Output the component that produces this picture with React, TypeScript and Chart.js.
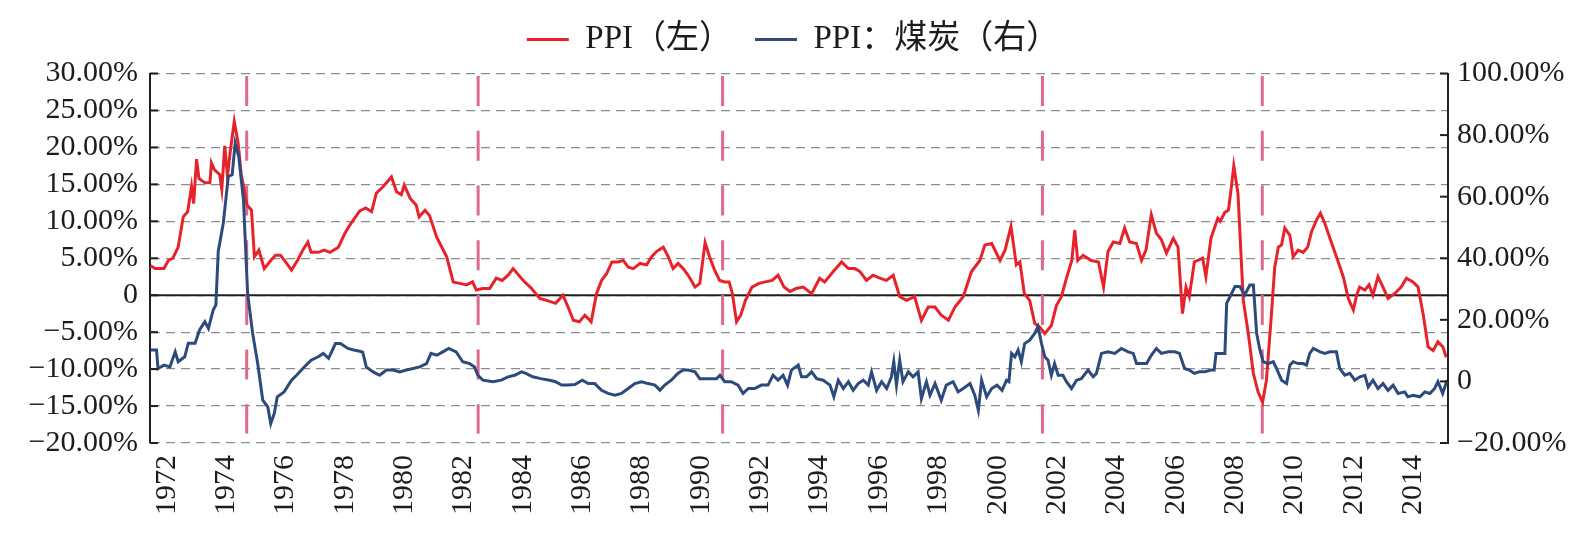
import React, { useEffect, useRef } from "react";
import { Chart, registerables } from "chart.js";

Chart.register(...registerables);

const seriesNames = ["PPI（左）", "PPI：煤炭（右）"];

// [year, YoY %] – US PPI (left axis)
const ppiPoints: [number, number][] = [
  [1971.45, 4.0], [1971.6, 3.6], [1971.9, 3.6], [1972.05, 4.7], [1972.2, 5.0], [1972.38, 6.5],
  [1972.55, 10.6], [1972.7, 11.3], [1972.83, 14.7], [1972.9, 12.4], [1973.0, 18.4], [1973.08, 15.8],
  [1973.28, 15.2], [1973.45, 15.2], [1973.5, 17.9], [1973.6, 17.0], [1973.78, 16.3], [1973.85, 14.3],
  [1973.95, 20.2], [1974.04, 16.1], [1974.15, 19.9], [1974.27, 23.5], [1974.4, 20.6], [1974.5, 16.5],
  [1974.7, 12.2], [1974.85, 11.5], [1974.95, 5.2], [1975.1, 6.1], [1975.28, 3.6], [1975.5, 4.7],
  [1975.66, 5.4], [1975.83, 5.4], [1976.0, 4.5], [1976.2, 3.4], [1976.4, 4.7], [1976.58, 6.1],
  [1976.75, 7.2], [1976.86, 5.8], [1977.1, 5.8], [1977.3, 6.1], [1977.5, 5.8], [1977.78, 6.5],
  [1978.0, 8.4], [1978.2, 9.7], [1978.5, 11.4], [1978.7, 11.8], [1978.9, 11.3], [1979.06, 13.8],
  [1979.29, 14.7], [1979.57, 16.0], [1979.74, 14.0], [1979.9, 13.6], [1980.0, 14.9], [1980.2, 13.1],
  [1980.4, 12.2], [1980.5, 10.6], [1980.7, 11.5], [1980.85, 10.8], [1981.09, 7.9], [1981.43, 5.2],
  [1981.65, 1.8], [1981.87, 1.6], [1982.1, 1.4], [1982.3, 1.8], [1982.43, 0.7], [1982.65, 0.9],
  [1982.88, 0.9], [1983.1, 2.3], [1983.3, 2.0], [1983.5, 2.7], [1983.67, 3.6], [1983.9, 2.5],
  [1984.06, 1.8], [1984.29, 0.9], [1984.57, -0.45], [1984.8, -0.7], [1985.1, -1.1], [1985.35, 0.0],
  [1985.52, -1.6], [1985.7, -3.4], [1985.9, -3.6], [1986.09, -2.7], [1986.3, -3.6], [1986.48, 0.2],
  [1986.65, 2.0], [1986.82, 2.9], [1987.0, 4.5], [1987.2, 4.5], [1987.38, 4.7], [1987.55, 3.8],
  [1987.72, 3.6], [1987.95, 4.3], [1988.17, 4.1], [1988.34, 5.2], [1988.5, 5.9], [1988.73, 6.5],
  [1988.9, 5.2], [1989.06, 3.6], [1989.23, 4.3], [1989.4, 3.6], [1989.57, 2.7], [1989.8, 1.1],
  [1989.96, 1.6], [1990.14, 7.1], [1990.29, 5.2], [1990.46, 3.4], [1990.63, 2.0], [1990.8, 1.8],
  [1990.95, 1.8], [1991.06, 0.2], [1991.2, -3.6], [1991.34, -2.7], [1991.5, -0.7], [1991.72, 1.1],
  [1991.95, 1.6], [1992.17, 1.8], [1992.4, 2.0], [1992.6, 2.7], [1992.8, 1.1], [1993.0, 0.5],
  [1993.2, 0.9], [1993.45, 1.1], [1993.73, 0.2], [1994.0, 2.3], [1994.17, 1.8], [1994.46, 3.2],
  [1994.74, 4.5], [1994.97, 3.6], [1995.19, 3.6], [1995.36, 3.2], [1995.58, 2.0], [1995.8, 2.7],
  [1996.03, 2.3], [1996.25, 2.0], [1996.48, 2.7], [1996.7, -0.2], [1996.93, -0.7], [1997.2, -0.2],
  [1997.43, -3.4], [1997.66, -1.6], [1997.89, -1.6], [1998.1, -2.7], [1998.34, -3.4], [1998.56, -1.6],
  [1998.84, -0.2], [1999.12, 3.2], [1999.4, 4.7], [1999.57, 6.8], [1999.8, 7.0], [2000.08, 4.7],
  [2000.25, 6.1], [2000.45, 9.3], [2000.63, 4.1], [2000.75, 4.5], [2000.9, 0.2], [2001.08, -0.7],
  [2001.25, -3.8], [2001.42, -4.3], [2001.59, -5.2], [2001.81, -4.1], [2001.98, -1.4], [2002.15, -0.2],
  [2002.32, 2.3], [2002.5, 4.7], [2002.6, 8.8], [2002.7, 4.7], [2002.88, 5.4], [2003.16, 4.7],
  [2003.4, 4.5], [2003.57, 1.1], [2003.72, 5.9], [2003.9, 7.2], [2004.12, 7.0], [2004.28, 9.1],
  [2004.45, 7.2], [2004.68, 7.0], [2004.85, 4.7], [2005.0, 6.1], [2005.18, 10.9], [2005.35, 8.4],
  [2005.52, 7.5], [2005.69, 5.7], [2005.92, 7.7], [2006.08, 6.5], [2006.23, -2.5], [2006.35, 1.1],
  [2006.46, -0.2], [2006.63, 4.5], [2006.91, 5.0], [2007.02, 2.5], [2007.19, 7.7], [2007.42, 10.4],
  [2007.5, 10.0], [2007.66, 11.2], [2007.78, 11.5], [2007.88, 14.7], [2007.96, 17.5], [2008.1, 13.8],
  [2008.28, -0.7], [2008.45, -5.2], [2008.62, -10.6], [2008.78, -13.1], [2008.93, -14.5], [2009.06, -11.5],
  [2009.23, -2.5], [2009.34, 3.8], [2009.46, 6.5], [2009.57, 6.8], [2009.68, 9.1], [2009.85, 8.1],
  [2009.96, 5.2], [2010.13, 6.1], [2010.3, 5.8], [2010.45, 6.5], [2010.58, 8.6], [2010.75, 10.2],
  [2010.88, 11.1], [2011.03, 9.7], [2011.2, 7.7], [2011.42, 5.2], [2011.65, 2.5], [2011.82, -0.45],
  [2011.99, -2.0], [2012.1, 0.0], [2012.2, 1.1], [2012.38, 0.7], [2012.52, 1.4], [2012.65, 0.0],
  [2012.82, 2.5], [2012.99, 1.1], [2013.16, -0.45], [2013.38, 0.2], [2013.6, 1.1], [2013.78, 2.3],
  [2014.0, 1.8], [2014.17, 1.1], [2014.34, -2.5], [2014.51, -7.0], [2014.68, -7.5], [2014.84, -6.3],
  [2015.01, -7.0], [2015.12, -8.4],
];

// [year, YoY %] – PPI: coal (right axis)
const coalPoints: [number, number][] = [
  [1971.45, 10.2], [1971.65, 10.2], [1971.7, 4.2], [1971.9, 5.3], [1972.1, 4.7], [1972.28, 9.6],
  [1972.38, 6.4], [1972.6, 8.0], [1972.72, 12.4], [1972.95, 12.4], [1973.1, 16.7], [1973.28, 19.4],
  [1973.4, 17.2], [1973.56, 23.2], [1973.65, 24.8], [1973.73, 42.2], [1973.9, 51.4], [1974.07, 66.6],
  [1974.2, 67.1], [1974.3, 77.4], [1974.42, 73.1], [1974.58, 59.0], [1974.72, 28.6], [1974.89, 15.6],
  [1975.06, 5.8], [1975.23, -6.1], [1975.4, -8.3], [1975.5, -13.7], [1975.62, -10.4], [1975.72, -5.0],
  [1975.95, -3.4], [1976.2, 0.4], [1976.37, 2.0], [1976.58, 4.2], [1976.86, 6.9], [1977.1, 8.0],
  [1977.27, 9.1], [1977.45, 7.5], [1977.68, 12.3], [1977.85, 12.3], [1978.1, 10.7], [1978.3, 10.2],
  [1978.5, 9.8], [1978.6, 9.5], [1978.72, 4.7], [1978.95, 3.1], [1979.17, 2.0], [1979.4, 3.7],
  [1979.62, 3.7], [1979.85, 3.1], [1980.07, 3.7], [1980.3, 4.2], [1980.52, 4.7], [1980.75, 5.8],
  [1980.9, 9.1], [1981.1, 8.5], [1981.3, 9.6], [1981.5, 10.7], [1981.75, 9.6], [1981.97, 6.4],
  [1982.2, 5.8], [1982.37, 4.7], [1982.48, 2.0], [1982.65, 0.4], [1982.99, -0.1], [1983.27, 0.4],
  [1983.5, 1.5], [1983.72, 2.0], [1983.95, 3.1], [1984.1, 2.6], [1984.33, 1.5], [1984.6, 0.9],
  [1984.9, 0.4], [1985.1, -0.1], [1985.3, -1.2], [1985.52, -1.2], [1985.75, -1.0], [1986.0, 0.4],
  [1986.2, -0.7], [1986.42, -0.7], [1986.65, -2.9], [1986.87, -3.9], [1987.1, -4.5], [1987.32, -3.9],
  [1987.55, -2.3], [1987.77, -0.7], [1988.0, -0.1], [1988.22, -0.7], [1988.45, -1.2], [1988.62, -2.9],
  [1988.78, -1.2], [1989.0, 0.4], [1989.22, 2.6], [1989.4, 3.7], [1989.57, 3.7], [1989.8, 3.1],
  [1989.96, 0.9], [1990.24, 0.9], [1990.53, 0.9], [1990.64, 2.0], [1990.8, -0.1], [1991.02, -0.1],
  [1991.25, -1.2], [1991.42, -3.9], [1991.6, -2.3], [1991.81, -2.3], [1992.04, -1.2], [1992.26, -1.2],
  [1992.43, 2.0], [1992.6, 0.4], [1992.77, 2.0], [1992.92, -1.2], [1993.05, 3.7], [1993.28, 5.3],
  [1993.39, 1.5], [1993.56, 1.5], [1993.73, 3.1], [1993.9, 0.9], [1994.12, 0.4], [1994.35, -1.2],
  [1994.48, -5.0], [1994.63, 0.4], [1994.8, -2.3], [1994.97, -0.1], [1995.13, -2.9], [1995.3, -0.7],
  [1995.47, 0.4], [1995.64, -1.2], [1995.75, 3.1], [1995.92, -2.9], [1996.09, -0.1], [1996.26, -2.3],
  [1996.42, 1.5], [1996.5, 6.4], [1996.59, -1.2], [1996.7, 6.9], [1996.81, -0.1], [1996.99, 3.1],
  [1997.15, 1.5], [1997.32, 3.1], [1997.43, -5.6], [1997.6, -0.1], [1997.72, -4.5], [1997.89, -0.7],
  [1998.1, -6.1], [1998.27, -1.2], [1998.5, -0.1], [1998.67, -3.4], [1998.84, -2.3], [1999.07, -0.7],
  [1999.23, -4.5], [1999.35, -9.4], [1999.46, 0.4], [1999.63, -5.0], [1999.8, -2.3], [1999.98, -1.2],
  [2000.15, -2.9], [2000.3, 0.4], [2000.38, -0.1], [2000.47, 9.1], [2000.58, 8.0], [2000.69, 10.2],
  [2000.8, 6.4], [2000.91, 12.3], [2001.08, 13.4], [2001.25, 15.6], [2001.36, 17.8], [2001.48, 12.3],
  [2001.59, 8.0], [2001.7, 6.9], [2001.81, 2.0], [2001.92, 5.8], [2002.04, 2.0], [2002.2, 2.0],
  [2002.32, -0.1], [2002.49, -2.3], [2002.66, 0.4], [2002.82, 0.9], [2003.05, 3.7], [2003.22, 1.5],
  [2003.33, 2.6], [2003.5, 9.1], [2003.72, 9.6], [2003.95, 9.1], [2004.17, 10.7], [2004.4, 9.6],
  [2004.57, 9.1], [2004.68, 5.8], [2004.85, 5.8], [2005.02, 5.8], [2005.18, 8.5], [2005.35, 10.7],
  [2005.52, 9.1], [2005.75, 9.6], [2005.97, 9.6], [2006.13, 9.1], [2006.3, 4.2], [2006.46, 3.7],
  [2006.63, 2.6], [2006.8, 3.1], [2006.97, 3.1], [2007.2, 3.7], [2007.3, 3.7], [2007.36, 9.1],
  [2007.66, 9.1], [2007.72, 25.4], [2007.83, 27.5], [2008.0, 30.8], [2008.16, 30.8], [2008.33, 28.1],
  [2008.5, 31.3], [2008.62, 31.3], [2008.73, 15.6], [2008.84, 10.2], [2008.95, 6.4], [2009.12, 5.8],
  [2009.29, 6.4], [2009.4, 4.2], [2009.57, 0.4], [2009.74, -0.7], [2009.85, 5.3], [2009.96, 6.4],
  [2010.13, 5.8], [2010.3, 5.8], [2010.41, 5.3], [2010.52, 9.1], [2010.64, 10.7], [2010.87, 9.6],
  [2011.03, 9.1], [2011.2, 9.6], [2011.42, 9.6], [2011.53, 4.2], [2011.7, 2.0], [2011.87, 2.6],
  [2012.04, 0.4], [2012.21, 1.5], [2012.38, 2.0], [2012.49, -1.8], [2012.65, 0.4], [2012.82, -2.3],
  [2012.99, -0.7], [2013.16, -2.9], [2013.33, -1.2], [2013.5, -3.9], [2013.72, -3.4], [2013.83, -5.0],
  [2014.0, -4.5], [2014.23, -5.0], [2014.4, -3.4], [2014.57, -3.9], [2014.73, -2.3], [2014.84, -0.1],
  [2015.0, -3.9], [2015.15, 0.4],
];

const recessionDates = [1974.69, 1982.49, 1990.73, 2001.51, 2008.92];
const yearTicks = [1972, 1974, 1976, 1978, 1980, 1982, 1984, 1986, 1988, 1990, 1992, 1994, 1996, 1998, 2000, 2002, 2004, 2006, 2008, 2010, 2012, 2014];
const leftTickValues = [-20, -15, -10, -5, 0, 5, 10, 15, 20, 25, 30];
const leftTickLabels = ["−20.00%", "−15.00%", "−10.00%", "−5.00%", "0", "5.00%", "10.00%", "15.00%", "20.00%", "25.00%", "30.00%"];
const rightTickValues = [-20, 0, 20, 40, 60, 80, 100];
const rightTickLabels = ["−20.00%", "0", "20.00%", "40.00%", "60.00%", "80.00%", "100.00%"];

const X_MIN = 1971.43;
const X_MAX = 2015.18;

const RED = "#E6232B";
const BLUE = "#2D4A7C";
const PINK = "#DE6A8E";
const SERIF = "'Liberation Serif', 'Times New Roman', 'Noto Sans CJK SC', serif";
const TEXT = "#1c1c1c";

const legendSpacer = {
  id: "legendSpacer",
  afterInit(chart: any) {
    const lg = chart.legend;
    if (!lg) return;
    const orig = lg.fit.bind(lg);
    lg.fit = function () {
      orig();
      this.height += 7.5;
    };
  },
};

const decor = {
  id: "decor",
  beforeDatasetsDraw(chart: any) {
    const { ctx, chartArea: a, scales } = chart;
    const x = scales.x;
    const yL = scales.yL;
    ctx.save();
    ctx.setLineDash([]);
    ctx.strokeStyle = "#1f1f1f";
    ctx.lineWidth = 2;
    const y0 = yL.getPixelForValue(0);
    ctx.beginPath();
    ctx.moveTo(a.left, y0);
    ctx.lineTo(a.right, y0);
    ctx.stroke();
    ctx.strokeStyle = PINK;
    ctx.lineWidth = 3;
    ctx.setLineDash([30, 24.7]);
    for (const d of recessionDates) {
      const px = x.getPixelForValue(d);
      ctx.beginPath();
      ctx.moveTo(px, yL.getPixelForValue(29.65));
      ctx.lineTo(px, yL.getPixelForValue(-18.7));
      ctx.stroke();
    }
    ctx.restore();
  },
  afterDraw(chart: any) {
    const { ctx, scales } = chart;
    const yL = scales.yL;
    const yR = scales.yR;
    ctx.save();
    ctx.setLineDash([]);
    ctx.strokeStyle = "#1f1f1f";
    ctx.lineWidth = 2;
    for (const t of yL.ticks) {
      const py = yL.getPixelForValue(t.value);
      ctx.beginPath();
      ctx.moveTo(yL.right, py);
      ctx.lineTo(yL.right + 8, py);
      ctx.stroke();
    }
    for (const t of yR.ticks) {
      const py = yR.getPixelForValue(t.value);
      ctx.beginPath();
      ctx.moveTo(yR.left, py);
      ctx.lineTo(yR.left - 8, py);
      ctx.stroke();
    }
    ctx.restore();
  },
};

export default function App() {
  const ref = useRef<HTMLCanvasElement>(null);

  useEffect(() => {
    document.body.style.margin = "0";
    const canvas = ref.current;
    if (!canvas) return;
    const chart = new Chart(canvas, {
      type: "line",
      data: {
        datasets: [
          {
            label: seriesNames[0],
            data: ppiPoints.map(([d, v]) => ({ x: d, y: v })),
            borderColor: RED,
            backgroundColor: RED,
            borderWidth: 3,
            pointRadius: 0,
            tension: 0,
            yAxisID: "yL",
            order: 1,
          },
          {
            label: seriesNames[1],
            data: coalPoints.map(([d, v]) => ({ x: d, y: v })),
            borderColor: BLUE,
            backgroundColor: BLUE,
            borderWidth: 3,
            pointRadius: 0,
            tension: 0,
            yAxisID: "yR",
            order: 0,
          },
        ],
      },
      options: {
        responsive: false,
        animation: false,
        devicePixelRatio: 1,
        layout: { padding: 0 },
        plugins: {
          legend: {
            display: true,
            position: "top",
            labels: {
              usePointStyle: true,
              pointStyle: "line",
              pointStyleWidth: 42,
              padding: 23,
              color: TEXT,
              font: { family: SERIF, size: 33 },
              sort: (a: any, b: any) => a.datasetIndex - b.datasetIndex,
            },
          },
          tooltip: { enabled: false },
        },
        scales: {
          x: {
            type: "linear",
            min: X_MIN,
            max: X_MAX,
            afterBuildTicks: (s: any) => {
              s.ticks = yearTicks.map((v) => ({ value: v }));
            },
            afterFit: (s: any) => {
              s.height = 103;
            },
            grid: { display: false, drawTicks: false },
            border: { display: false },
            ticks: {
              autoSkip: false,
              maxRotation: 90,
              minRotation: 90,
              padding: 12,
              color: TEXT,
              font: { family: SERIF, size: 30 },
              callback: (v: any) => String(v),
            },
          },
          yL: {
            type: "linear",
            position: "left",
            min: -20,
            max: 30,
            afterBuildTicks: (s: any) => {
              s.ticks = leftTickValues.map((v) => ({ value: v }));
            },
            afterFit: (s: any) => {
              s.width = 150;
            },
            grid: { color: "#8c8c8c", lineWidth: 1.3, drawTicks: false },
            border: { display: true, color: "#1f1f1f", width: 2, dash: [9, 6] },
            ticks: {
              autoSkip: false,
              padding: 12,
              color: TEXT,
              font: { family: SERIF, size: 30 },
              callback: (_v: any, i: number) => leftTickLabels[i],
            },
          },
          yR: {
            type: "linear",
            position: "right",
            min: -20,
            max: 100,
            afterBuildTicks: (s: any) => {
              s.ticks = rightTickValues.map((v) => ({ value: v }));
            },
            afterFit: (s: any) => {
              s.width = 138;
            },
            grid: { drawOnChartArea: false, drawTicks: false },
            border: { display: true, color: "#1f1f1f", width: 2 },
            ticks: {
              autoSkip: false,
              padding: 9,
              color: TEXT,
              font: { family: SERIF, size: 30 },
              callback: (_v: any, i: number) => rightTickLabels[i],
            },
          },
        },
      },
      plugins: [legendSpacer, decor],
    } as any);
    return () => chart.destroy();
  }, []);

  return (
    <div style={{ width: 1586, height: 546 }}>
      <canvas ref={ref} width={1586} height={546} style={{ display: "block" }} />
    </div>
  );
}
